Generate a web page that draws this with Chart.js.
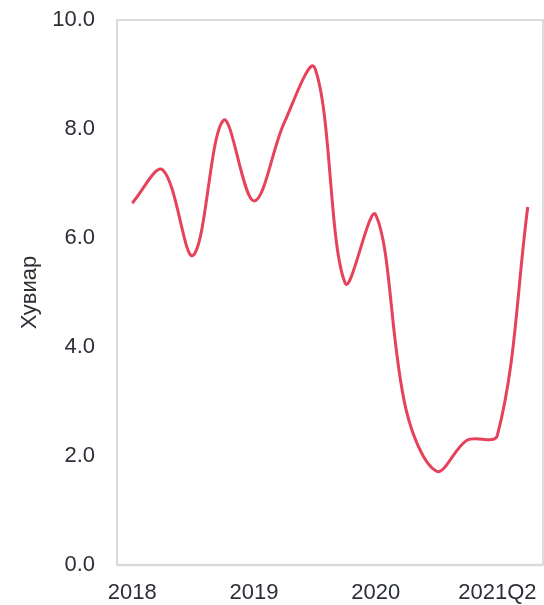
<!DOCTYPE html>
<html>
<head>
<meta charset="utf-8">
<script src="https://cdn.jsdelivr.net/npm/chart.js@4"></script>
<style>
  html, body { margin: 0; padding: 0; background: #ffffff; }
  #wrap { width: 544px; height: 605px; }
</style>
</head>
<body>
<div id="wrap"><canvas id="myChart" width="544" height="605"></canvas></div>
<script>
// quarters 2018Q1 .. 2021Q2
const quarters = ['2018Q1', '2018Q2', '2018Q3', '2018Q4', '2019Q1', '2019Q2', '2019Q3', '2019Q4',
                  '2020Q1', '2020Q2', '2020Q3', '2020Q4', '2021Q1', '2021Q2'];
const tickLabels = ['2018', '', '', '', '2019', '', '', '', '2020', '', '', '', '2021Q2', ''];
const values = [6.64, 7.25, 5.68, 8.16, 6.68, 8.12, 9.12, 5.17, 6.43, 2.85, 1.72, 2.29, 2.38, 6.57];
const yTicks = [0, 2, 4, 6, 8, 10];

const textColor = '#2b2f36';
const fontFamily = '"Liberation Sans", Arial, sans-serif';

// plot box (all four sides)
const boxPlugin = {
    id: 'box',
    beforeDatasetsDraw(chart) {
        const {ctx, chartArea: a} = chart;
        ctx.save();
        ctx.strokeStyle = '#cfcfcf';
        ctx.lineWidth = 1.5;
        ctx.strokeRect(a.left, a.top, a.right - a.left, a.bottom - a.top);
        ctx.strokeStyle = '#d9d9d9';
        ctx.lineWidth = 2.5;
        ctx.beginPath();
        ctx.moveTo(a.left, a.bottom);
        ctx.lineTo(a.right, a.bottom);
        ctx.stroke();
        ctx.restore();
    }
};

const ctx = document.getElementById('myChart').getContext('2d');
const myChart = new Chart(ctx, {
    type: 'line',
    data: {
        labels: quarters,
        datasets: [{
            data: values,
            borderColor: 'rgb(232, 65, 92)',
            borderWidth: 3,
            pointRadius: 0,
            tension: 0.35,
            fill: false
        }]
    },
    options: {
        responsive: false,
        animation: false,
        layout: { padding: { top: 20, right: 1, left: 0, bottom: 0 } },
        plugins: {
            legend: { display: false },
            tooltip: { enabled: false }
        },
        scales: {
            x: {
                offset: true,
                grid: { display: false, drawTicks: false },
                border: { display: false },
                ticks: {
                    autoSkip: false,
                    maxRotation: 0,
                    padding: 15,
                    color: textColor,
                    font: { family: fontFamily, size: 22 },
                    callback: (val, i) => tickLabels[i]
                },
                afterFit: s => { s.height = 40; }
            },
            y: {
                min: 0,
                max: 10,
                afterBuildTicks: s => { s.ticks = yTicks.map(v => ({ value: v })); },
                grid: { display: false, drawTicks: false },
                border: { display: false },
                ticks: {
                    padding: 22,
                    color: textColor,
                    font: { family: fontFamily, size: 22 },
                    callback: v => v.toFixed(1)
                },
                title: {
                    display: true,
                    text: 'Хувиар',
                    color: textColor,
                    font: { family: fontFamily, size: 22 },
                    padding: { top: 17, bottom: 0 }
                },
                afterFit: s => {
                    s.width = 117;
                    s.paddingTop = 0;
                    s.paddingBottom = 0;
                }
            }
        }
    },
    plugins: [boxPlugin]
});
</script>
</body>
</html>
